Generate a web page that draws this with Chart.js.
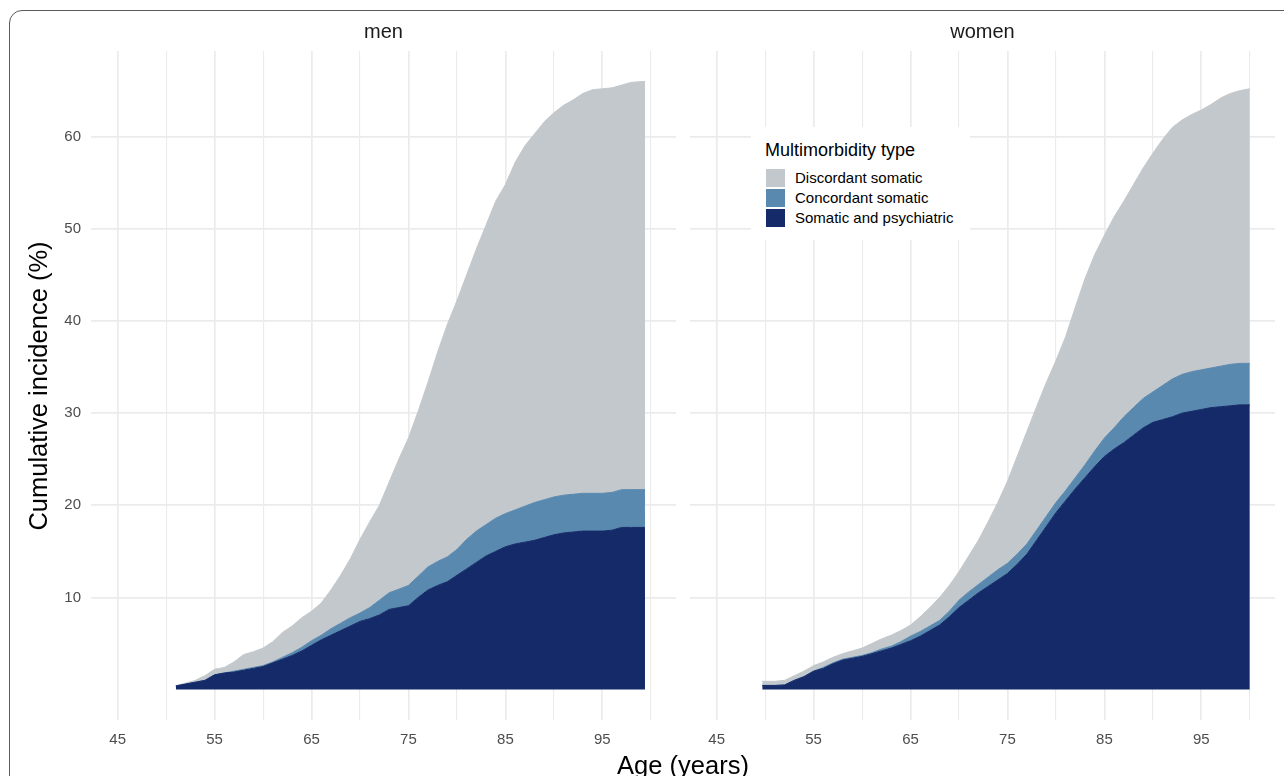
<!DOCTYPE html>
<html>
<head>
<meta charset="utf-8">
<title>Cumulative incidence of multimorbidity</title>
<script src="https://cdn.jsdelivr.net/npm/chart.js@4.4.1/dist/chart.umd.min.js"></script>
<style>
  body { margin: 0; background: #fff; font-family: 'Liberation Sans', Arial, sans-serif; }
  #page { position: relative; width: 1284px; height: 776px; overflow: hidden; }
  #frame { position: absolute; left: 9px; top: 10px; width: 1400px; height: 900px;
           border: 1.5px solid #5b5b5b; border-radius: 13px; }
  canvas { position: absolute; top: 0; }
  #menCanvas { left: 0; }
  #womenCanvas { left: 683px; }
  .strip { position: absolute; top: 21px; width: 585px; text-align: center;
           font-size: 20px; line-height: 20px; color: #1a1a1a; }
  #yTitle { position: absolute; left: -162px; top: 372.5px; width: 400px; height: 26px;
            line-height: 26px; font-size: 25.5px; text-align: center; color: #000;
            transform: rotate(-90deg); }
  #xTitle { position: absolute; left: 483px; top: 751.5px; width: 400px; line-height: 26px;
            font-size: 25.5px; text-align: center; color: #000; }
  #legend { position: absolute; left: 751px; top: 127px; width: 219px; height: 113px;
            background: #fff; }
  #legend .title { position: absolute; left: 14px; top: 14px; font-size: 18px; line-height: 18px;
                   color: #000; white-space: nowrap; }
  #legend .item { position: absolute; left: 15px; height: 18px; line-height: 18px;
                  font-size: 15px; color: #000; white-space: nowrap; }
  #legend .swatch { display: inline-block; width: 19px; height: 18px; vertical-align: top;
                    margin-right: 10px; }
</style>
</head>
<body>
<div id="page">
  <div id="frame"></div>
  <canvas id="menCanvas" width="683" height="776"></canvas>
  <canvas id="womenCanvas" width="601" height="776"></canvas>
  <div class="strip" style="left:91px">men</div>
  <div class="strip" style="left:690px">women</div>
  <div id="yTitle">Cumulative incidence (%)</div>
  <div id="xTitle">Age (years)</div>
  <div id="legend"></div>
</div>
<script>
// ---- data (cumulative incidence in %, one value per layer, stacked) ----
const menAges = [51, 52, 53, 54, 55, 56, 57, 58, 59, 60, 61, 62, 63, 64, 65, 66, 67, 68, 69, 70,
  71, 72, 73, 74, 75, 76, 77, 78, 79, 80, 81, 82, 83, 84, 85, 86, 87, 88, 89, 90,
  91, 92, 93, 94, 95, 96, 97, 98, 99.4];
const menPsychiatric = [0.4, 0.6, 0.8, 1.0, 1.6, 1.8, 1.9, 2.1, 2.3, 2.5, 2.9, 3.3, 3.7, 4.2, 4.8, 5.4, 5.9, 6.4, 6.9, 7.4,
  7.7, 8.1, 8.7, 8.9, 9.1, 10.0, 10.8, 11.3, 11.7, 12.4, 13.1, 13.8, 14.5, 15.0, 15.5, 15.8, 16.0, 16.2, 16.5, 16.8,
  17.0, 17.1, 17.2, 17.2, 17.2, 17.3, 17.6, 17.6, 17.6];
const menConcordant = [0, 0, 0, 0, 0, 0, 0.1, 0.1, 0.1, 0.1, 0.1, 0.2, 0.3, 0.4, 0.5, 0.5, 0.7, 0.8, 0.9, 0.9,
  1.2, 1.6, 1.8, 2.0, 2.2, 2.3, 2.5, 2.6, 2.7, 2.8, 3.2, 3.4, 3.4, 3.6, 3.6, 3.7, 3.9, 4.1, 4.1, 4.1,
  4.1, 4.1, 4.1, 4.1, 4.1, 4.1, 4.1, 4.1, 4.1];
const menDiscordant = [0, 0.1, 0.2, 0.5, 0.6, 0.6, 1.0, 1.6, 1.7, 1.9, 2.2, 2.7, 2.9, 3.2, 3.2, 3.5, 4.2, 5.2, 6.4, 8.0,
  9.3, 10.3, 12.0, 14.1, 16.0, 17.9, 20.0, 22.7, 25.2, 27.0, 28.7, 30.6, 32.5, 34.4, 35.7, 37.7, 39.1, 40.0, 41.0, 41.7,
  42.3, 42.8, 43.4, 43.8, 43.9, 43.9, 43.9, 44.2, 44.3];

const womenAges = [49.7, 51, 52, 53, 54, 55, 56, 57, 58, 59, 60, 61, 62, 63, 64, 65, 66, 67, 68, 69, 70,
  71, 72, 73, 74, 75, 76, 77, 78, 79, 80, 81, 82, 83, 84, 85, 86, 87, 88, 89, 90,
  91, 92, 93, 94, 95, 96, 97, 98, 99, 100];
const womenPsychiatric = [0.45, 0.45, 0.5, 1.0, 1.4, 2.0, 2.3, 2.8, 3.2, 3.4, 3.6, 3.9, 4.2, 4.5, 4.9, 5.3, 5.8, 6.4, 7.0, 7.9, 8.9,
  9.7, 10.5, 11.2, 11.9, 12.6, 13.6, 14.7, 16.2, 17.7, 19.2, 20.5, 21.8, 23.0, 24.2, 25.3, 26.1, 26.8, 27.6, 28.4, 29.0,
  29.3, 29.6, 30.0, 30.2, 30.4, 30.6, 30.7, 30.8, 30.9, 30.9];
const womenConcordant = [0, 0, 0, 0, 0, 0, 0.1, 0.1, 0.1, 0.1, 0.1, 0.1, 0.2, 0.2, 0.3, 0.5, 0.5, 0.5, 0.5, 0.6, 0.8,
  0.9, 0.9, 1.0, 1.1, 1.1, 1.1, 1.1, 1.1, 1.1, 1.1, 1.1, 1.2, 1.4, 1.7, 2.0, 2.3, 2.8, 3.0, 3.2, 3.3,
  3.7, 4.1, 4.2, 4.3, 4.3, 4.3, 4.4, 4.5, 4.5, 4.5];
const womenDiscordant = [0.45, 0.45, 0.5, 0.5, 0.6, 0.6, 0.6, 0.6, 0.6, 0.7, 0.8, 1.0, 1.1, 1.2, 1.2, 1.2, 1.6, 2.0, 2.5, 2.8, 3.1,
  3.9, 4.8, 6.0, 7.3, 8.9, 10.6, 12.2, 13.4, 14.5, 15.4, 16.7, 18.5, 20.2, 21.3, 22.0, 22.9, 23.4, 24.2, 25.0, 25.9,
  26.7, 27.3, 27.6, 27.9, 28.2, 28.6, 29.1, 29.4, 29.6, 29.8];

// axis breaks
const xGridTicks = [45, 50, 55, 60, 65, 70, 75, 80, 85, 90, 95, 100];
const xLabelTicks = [45, 55, 65, 75, 85, 95];
const yTicks = [10, 20, 30, 40, 50, 60];

// layer names, bottom to top
const layerNames = ['Somatic and psychiatric', 'Concordant somatic', 'Discordant somatic'];
const layerColors = ['#152b69', '#5a89b0', '#c3c8cc'];

// ---- shared look ----
const FONT = "'Liberation Sans', Arial, sans-serif";
const TICK_COLOR = '#4d4d4d';
const GRID_COLOR = '#ebebeb';
const X_MIN = 42.25, X_MAX = 102.6;
const Y_MIN = -3.3, Y_MAX = 69.3;

function buildPanel(canvasId, ages, layers, showYLabels, padLeft, padRight) {
  const ctx = document.getElementById(canvasId).getContext('2d');
  const datasets = layers.map((values, i) => ({
    label: layerNames[i],
    data: ages.map((age, j) => ({ x: age, y: values[j] })),
    backgroundColor: layerColors[i],
    borderColor: layerColors[i],
    borderWidth: 1,
    pointRadius: 0,
    tension: 0,
    fill: i === 0 ? 'origin' : '-1'
  }));

  return new Chart(ctx, {
    type: 'line',
    data: { datasets },
    options: {
      responsive: false,
      animation: false,
      events: [],
      layout: { padding: { top: 51, right: padRight, bottom: 0, left: padLeft } },
      plugins: { legend: { display: false }, tooltip: { enabled: false } },
      scales: {
        x: {
          type: 'linear',
          min: X_MIN,
          max: X_MAX,
          afterBuildTicks: (scale) => { scale.ticks = xGridTicks.map(v => ({ value: v })); },
          afterFit: (scale) => { scale.height = 56; },
          border: { display: false },
          grid: {
            color: GRID_COLOR,
            lineWidth: (c) => (c.tick && xLabelTicks.includes(c.tick.value) ? 1.7 : 1.1),
            drawTicks: false
          },
          ticks: {
            autoSkip: false,
            maxRotation: 0,
            padding: 11,
            color: TICK_COLOR,
            font: { family: FONT, size: 15 },
            callback: (value) => (xLabelTicks.includes(value) ? String(value) : '')
          }
        },
        y: {
          type: 'linear',
          stacked: true,
          min: Y_MIN,
          max: Y_MAX,
          afterBuildTicks: (scale) => { scale.ticks = yTicks.map(v => ({ value: v })); },
          afterFit: (scale) => { scale.width = showYLabels ? 91 : 0; },
          border: { display: false },
          grid: { color: GRID_COLOR, lineWidth: 1.7, drawTicks: false },
          ticks: {
            display: showYLabels,
            padding: 10,
            color: TICK_COLOR,
            font: { family: FONT, size: 15 },
            callback: (value) => String(value)
          }
        }
      }
    }
  });
}

buildPanel('menCanvas', menAges, [menPsychiatric, menConcordant, menDiscordant], true, 0, 7);
buildPanel('womenCanvas', womenAges, [womenPsychiatric, womenConcordant, womenDiscordant], false, 7, 9);

// legend, drawn inside the women panel (top layer listed first)
const legend = document.getElementById('legend');
legend.innerHTML = '<div class="title">Multimorbidity type</div>';
[2, 1, 0].forEach((layer, row) => {
  const item = document.createElement('div');
  item.className = 'item';
  item.style.top = (42 + row * 20) + 'px';
  item.innerHTML = '<span class="swatch" style="background:' + layerColors[layer] + '"></span>' + layerNames[layer];
  legend.appendChild(item);
});
</script>
</body>
</html>
